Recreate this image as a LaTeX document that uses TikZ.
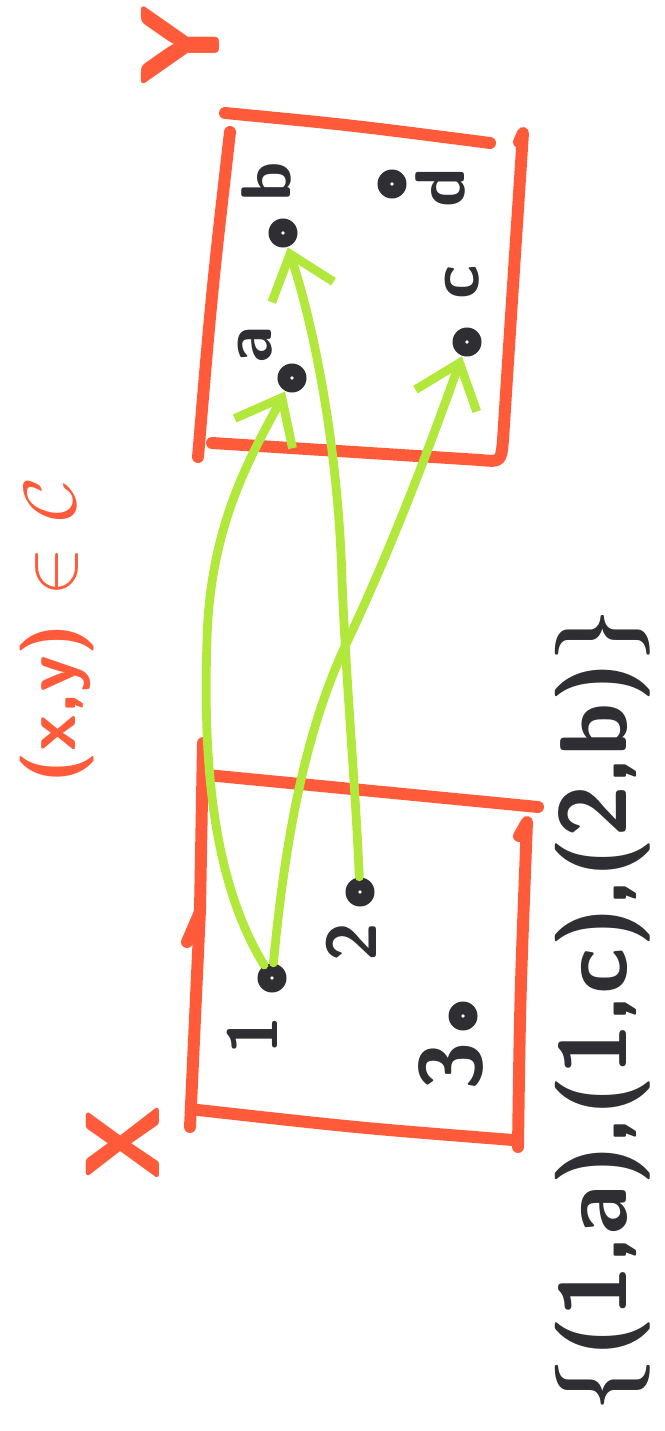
\documentclass[tikz,border=0pt]{standalone}
\usepackage{fix-cm}
\usepackage{fontspec}
\usetikzlibrary{arrows.meta}
\definecolor{markerRed}{HTML}{FF5B3A}
\definecolor{markerGreen}{HTML}{B2E83C}
\definecolor{markerInk}{HTML}{2F2F33}

\begin{document}
\begin{tikzpicture}[
  x=0.01cm, y=-0.01cm,
  setline/.style={draw=markerRed, line width=3.4pt, line cap=round, line join=round},
  elem/.style={circle, fill=markerInk, inner sep=0pt, minimum size=0.29cm,
    path picture={\fill[white] (path picture bounding box.center) circle (0.018cm);}},
  elemlabel/.style={text=markerInk, rotate=90, inner sep=0pt, font=\sffamily\bfseries\fontsize{20}{24}\selectfont},
  redtext/.style={text=markerRed, rotate=90, inner sep=0pt},
  pairarrow/.style={draw=markerGreen, line width=2.5pt, line cap=round, -{Straight Barb[length=0.4cm, width=0.65cm]}}
]
\useasboundingbox (0,0) rectangle (665,1431);

% Set Y
\draw[setline] (225,113) .. controls (350,125) .. (490,143);
\draw[setline] (230,132) .. controls (212,290) .. (198,457);
\draw[setline] (519,142) -- (523,133) .. controls (512,300) .. (503,440) .. controls (501,462) .. (480,460) -- (212,443);

\node[elem] (pb) at (283,233) {};
\node[elem] (pa) at (292,378) {};
\node[elem] (pd) at (392,184) {};
\node[elem] (pc) at (467,342) {};
\node[elemlabel] (lb) at (266,182) {b};
\node[elemlabel] (la) at (255,345) {a};
\node[elemlabel] (ld) at (440,188) {d};
\node[elemlabel] (lc) at (462,282) {c};

% Set X
\draw[setline] (207,775) -- (538,807);
\draw[setline] (203,743) -- (200,910) -- (190,1127);
\draw[setline] (200,912) -- (187,942);
\draw[setline] (198,1110) .. controls (360,1128) .. (513,1140);
\draw[setline] (519,836) -- (527,822) .. controls (520,1000) .. (518,1147);

\node[elem] (p1) at (272,978) {};
\node[elem] (p2) at (360,892) {};
\node[elem] (p3) at (463,1016) {};
\node[elemlabel] (l1) at (252,1035) {1};
\node[elemlabel] (l2) at (351,942) {2};
\node[elemlabel, font=\sffamily\bfseries\fontsize{25}{28}\selectfont] (l3) at (451,1066) {3};

% Pairs of the relation
\draw[pairarrow] (p1) .. controls (212,880) and (203,760) .. (207,640) .. controls (210,520) and (255,450) .. (pa);
\draw[pairarrow] (p1) .. controls (285,840) and (305,730) .. (348,640) .. controls (395,540) and (432,440) .. (pc);
\draw[pairarrow] (p2) .. controls (355,780) and (346,680) .. (342,580) .. controls (338,440) and (312,320) .. (pb);

% Labels
\node[redtext, font=\sffamily\bfseries\fontsize{32}{36}\selectfont] (nameY) at (180,45) {Y};
\node[redtext, font=\sffamily\bfseries\fontsize{30}{34}\selectfont] (nameX) at (123,1143) {X};
\node[redtext, font=\sffamily\bfseries\fontsize{21}{24}\selectfont] (rel) at (57,630) {(x,y) $\in$ $\mathcal{C}$};
\node[elemlabel, font=\sffamily\bfseries\fontsize{27}{32}\selectfont] (pairs) at (603,1010) {\{(1,a),(1,c),(2,b)\}};
\end{tikzpicture}
\end{document}
